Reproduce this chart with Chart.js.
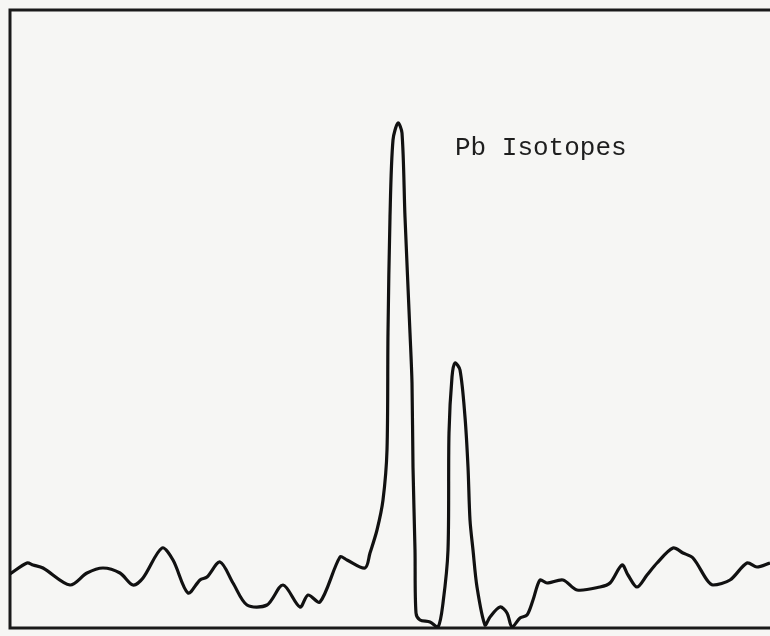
<!DOCTYPE html>
<html>
<head>
<meta charset="utf-8">
<script src="https://cdn.jsdelivr.net/npm/chart.js@4"></script>
<style>
  html, body { margin: 0; padding: 0; background: #f6f6f4; }
  #wrap { width: 770px; height: 636px; }
</style>
</head>
<body>
<div id="wrap"><canvas id="myChart" width="770" height="636"></canvas></div>
<script>
// Scan trace (channel, signal)
const channels = [0, 17, 23, 33, 60, 77, 93, 110, 123, 133, 152, 163, 178, 190, 197, 210, 223, 237, 257, 273,
    290, 298, 310, 330, 337, 355, 360, 367, 373, 377, 378, 380, 383, 388, 392, 395, 400, 402, 403, 405, 406,
    410, 420, 428, 433, 438, 439, 442, 445, 450, 455, 458, 460, 463, 467, 475, 480, 490, 497, 502, 510,
    517, 523, 530, 537, 553, 567, 590, 600, 612, 618, 627, 637, 647, 663, 673, 683, 697, 703, 720, 737,
    747, 760]
const signal = [54, 65, 63, 60, 43, 55, 60, 55, 43, 50, 80, 68, 35, 48, 51, 66, 45, 23, 23, 43,
    21, 33, 26, 71, 68, 60, 75, 98, 128, 178, 295, 411, 488, 505, 495, 411, 295, 245, 161, 78, 15,
    8, 6, 1, 25, 78, 195, 251, 265, 258, 211, 161, 108, 78, 41, 3, 11, 21, 15, 1, 10,
    13, 28, 48, 45, 48, 38, 41, 45, 63, 53, 41, 53, 65, 80, 75, 70, 48, 43, 48, 65,
    61, 65]
const label = 'Pb Isotopes'
const labelPos = { x: 445, y: 473 }

// frame: top, left and bottom edges of the plot box
const framePlugin = {
    id: 'frame',
    beforeDatasetsDraw(chart) {
        const { ctx, chartArea: a } = chart
        ctx.save()
        ctx.strokeStyle = '#1a1a1a'
        ctx.lineWidth = 3
        ctx.beginPath()
        ctx.moveTo(a.right + 2, a.top)
        ctx.lineTo(a.left, a.top)
        ctx.lineTo(a.left, a.bottom)
        ctx.lineTo(a.right + 2, a.bottom)
        ctx.stroke()
        ctx.restore()
    }
}

// the annotation text inside the plot
const labelPlugin = {
    id: 'peakLabel',
    afterDatasetsDraw(chart) {
        const { ctx, scales } = chart
        ctx.save()
        ctx.fillStyle = '#1e1e1e'
        ctx.font = '26px "Liberation Mono", monospace'
        ctx.textBaseline = 'alphabetic'
        ctx.fillText(label, scales.x.getPixelForValue(labelPos.x), scales.y.getPixelForValue(labelPos.y))
        ctx.restore()
    }
}

const ctx = document.getElementById('myChart')
new Chart(ctx, {
    type: 'line',
    data: {
        labels: channels,
        datasets: [{
            data: channels.map((c, i) => ({ x: c, y: signal[i] })),
            borderColor: '#111',
            borderWidth: 3.2,
            pointRadius: 0,
            tension: 0.3,
            fill: false
        }]
    },
    options: {
        responsive: false,
        animation: false,
        layout: { padding: { left: 10, top: 10, right: 0, bottom: 8 } },
        plugins: { legend: { display: false }, tooltip: { enabled: false }, title: { display: false } },
        scales: {
            x: { type: 'linear', min: 0, max: 760, display: false },
            y: { min: 0, max: 618, display: false }
        }
    },
    plugins: [framePlugin, labelPlugin]
});
</script>
</body>
</html>
